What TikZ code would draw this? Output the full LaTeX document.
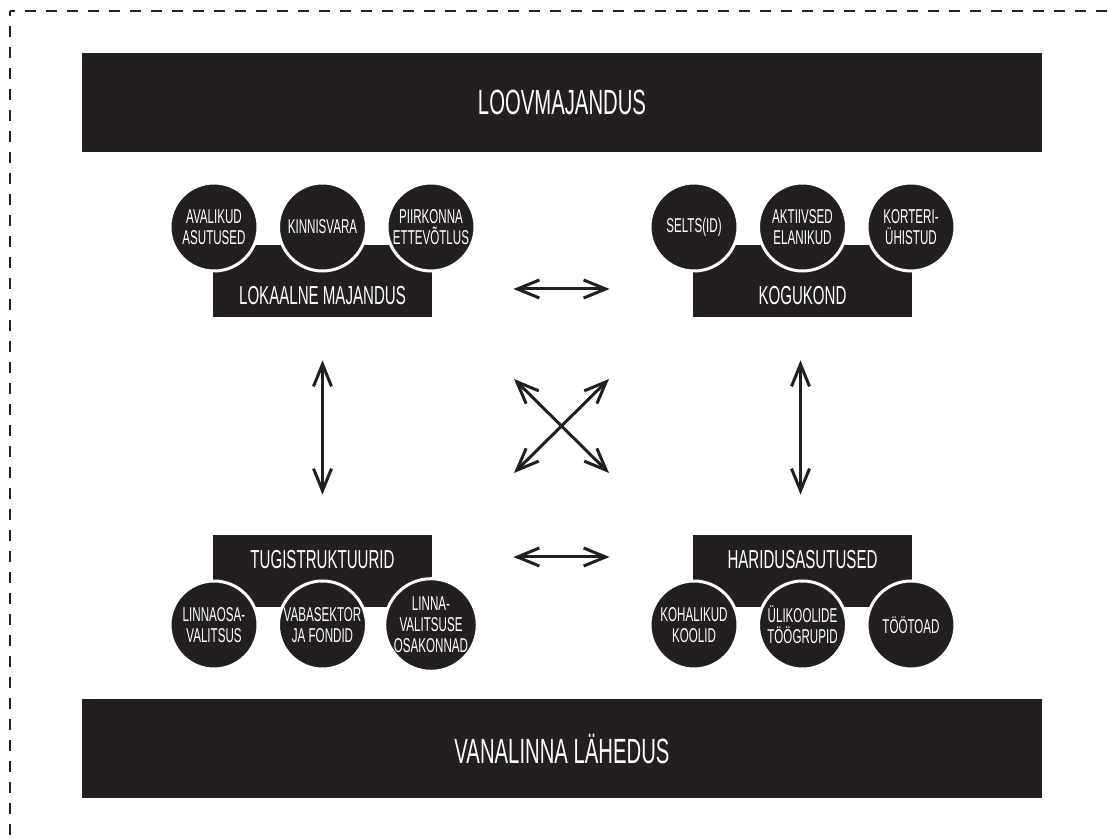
\documentclass[tikz,border=0pt]{standalone}
\usepackage{fontspec}
\setmainfont[FakeStretch=0.58]{Liberation Sans}
\usepackage{tikz}
\usetikzlibrary{calc,positioning,arrows.meta,shapes}
\definecolor{ink}{HTML}{231F20}
\tikzstyle{bar}       = [rectangle, fill=ink, minimum width=480pt, minimum height=49.5pt, text=white, font=\fontsize{17.5}{20}\selectfont]
\tikzstyle{sector}    = [rectangle, fill=ink, minimum width=109.5pt, minimum height=36pt]
\tikzstyle{sectortext}= [text=white, font=\fontsize{13}{15}\selectfont]
\tikzstyle{blob}      = [circle, fill=ink, draw=white, line width=1.5pt, minimum size=44pt, inner sep=0pt, text=white, align=center, font=\fontsize{10}{10.5}\selectfont]
\tikzstyle{arrow}     = [ink, line width=1.5pt, {Straight Barb[length=11pt,width=9pt]}-{Straight Barb[length=11pt,width=9pt]}]
\tikzstyle{frame}     = [ink, line width=1.1pt, dash pattern=on 5.5pt off 5pt, dash phase=3pt]

\begin{document}
\begin{tikzpicture}[x=0.5pt,y=-0.5pt]
    \useasboundingbox (0,0) rectangle (1109,838);
    % dashed frame, only top and left show
    \draw[frame] (10,11) -- (1115,11);
    \draw[frame] (10,11) -- (10,845);

    \node[bar] (loov) at (562,102.5) {LOOVMAJANDUS};
    \node[bar] (vana) at (562,749) {VANALINNA LÄHEDUS};

    % top left
    \node[sector] (lok) at (322.5,281) {};
    \node[blob] (avalik) at (214,227) {AVALIKUD\\ASUTUSED};
    \node[blob] (kinnis) at (322.5,227) {KINNISVARA};
    \node[blob] (piir) at (431,227) {PIIRKONNA\\ETTEVÕTLUS};
    \node[sectortext] (lokt) at (322.5,296) {LOKAALNE MAJANDUS};

    % top right
    \node[sector] (kog) at (802.5,281) {};
    \node[blob] (selts) at (694,227) {SELTS(ID)};
    \node[blob] (aktiiv) at (802.5,227) {AKTIIVSED\\ELANIKUD};
    \node[blob] (korter) at (911,227) {KORTERI-\\ÜHISTUD};
    \node[sectortext] (kogt) at (802.5,296) {KOGUKOND};

    % bottom left
    \node[sector] (tug) at (322.5,571) {};
    \node[blob] (linnaosa) at (214,625) {LINNAOSA-\\VALITSUS};
    \node[blob] (vaba) at (322.5,625) {VABASEKTOR\\JA FONDID};
    \node[blob] (linnaval) at (431,625) {LINNA-\\VALITSUSE\\OSAKONNAD};
    \node[sectortext] (tugt) at (322.5,560) {TUGISTRUKTUURID};

    % bottom right
    \node[sector] (har) at (802.5,571) {};
    \node[blob] (kohal) at (694,625) {KOHALIKUD\\KOOLID};
    \node[blob] (yli) at (802.5,625) {ÜLIKOOLIDE\\TÖÖGRUPID};
    \node[blob] (too) at (911,625) {TÖÖTOAD};
    \node[sectortext] (hart) at (802.5,560) {HARIDUSASUTUSED};

    % arrows
    \draw[arrow, shorten <=40.5pt, shorten >=41.5pt] ([yshift=-4pt]lok.east) -- ([yshift=-4pt]kog.west);
    \draw[arrow, shorten <=40.5pt, shorten >=41.5pt] ([yshift=7pt]tug.east) -- ([yshift=7pt]har.west);
    \draw[arrow, shorten <=21.5pt, shorten >=20pt] (lok.south) -- (tug.north);
    \draw[arrow, shorten <=21.5pt, shorten >=20pt] ([xshift=-1pt]kog.south) -- ([xshift=-1pt]har.north);

    \coordinate (xnw) at (514,379);
    \coordinate (xne) at (609,379);
    \coordinate (xsw) at (514,473);
    \coordinate (xse) at (609,473);
    \draw[arrow] (xnw) -- (xse);
    \draw[arrow] (xne) -- (xsw);
\end{tikzpicture}
\end{document}
